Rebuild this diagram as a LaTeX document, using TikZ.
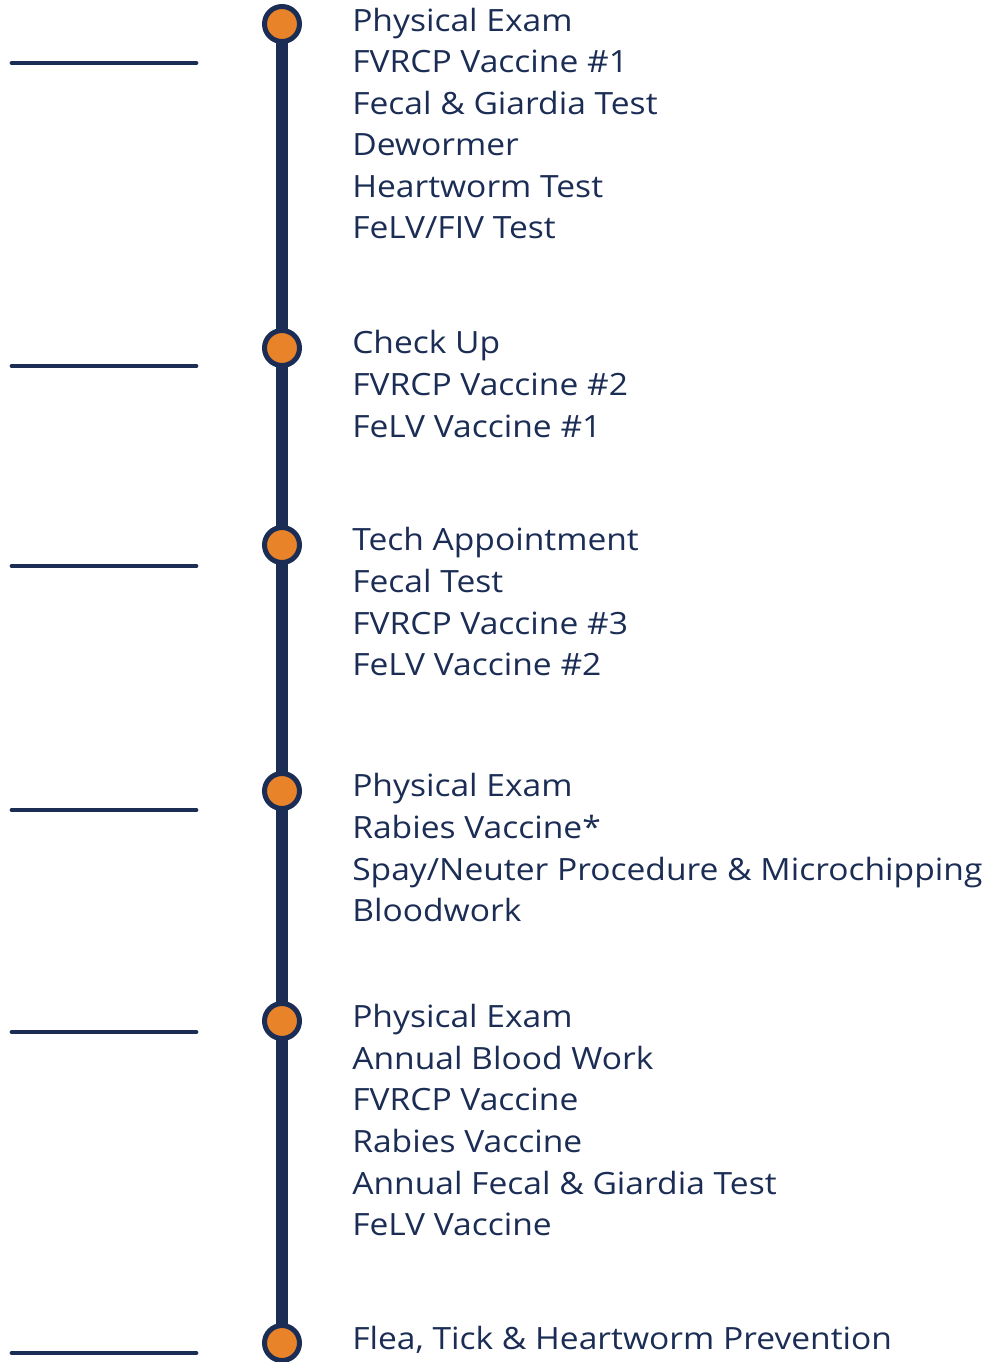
\documentclass[tikz,border=0pt]{standalone}
\usepackage{fontspec}
\setmainfont[FakeStretch=1.095]{Open Sans}
\definecolor{navy}{HTML}{1B2D55}
\definecolor{dotorange}{HTML}{E8832A}
\begin{document}
\begin{tikzpicture}[x=0.75pt,y=-0.75pt,
  dot/.style={circle,draw=navy,fill=dotorange,line width=3.75pt,minimum size=26.25pt,inner sep=0pt},
  spine/.style={navy,line width=9pt},
  tick/.style={navy,line width=3.6pt,line cap=round},
  item/.style={anchor=base west,inner sep=0pt,text=navy,font=\fontsize{23}{31}\selectfont}]
\useasboundingbox (0,0) rectangle (985,1362);
\coordinate (top) at (282,24);
\coordinate (bot) at (282,1343);
\draw[spine] (top) -- (bot);
\foreach \n/\y/\ly in {1/24/63,2/348/366,3/545/566,4/791/810,5/1021/1032,6/1343/1353}{
  \node[dot] (d\n) at (282,\y) {};
  \coordinate (t\n a) at (12,\ly);
  \coordinate (t\n b) at (196,\ly);
  \draw[tick] (t\n a) -- (t\n b);
}
\foreach \g/\y/\txt in {
  1a/31.5/{Physical Exam},
  1b/73/{FVRCP Vaccine \#1},
  1c/114.5/{Fecal \& Giardia Test},
  1d/156/{Dewormer},
  1e/197.5/{Heartworm Test},
  1f/239/{FeLV/FIV Test},
  2a/353.5/{Check Up},
  2b/395.5/{FVRCP Vaccine \#2},
  2c/437.5/{FeLV Vaccine \#1},
  3a/550.5/{Tech Appointment},
  3b/592.5/{Fecal Test},
  3c/634.5/{FVRCP Vaccine \#3},
  3d/675.5/{FeLV Vaccine \#2},
  4a/796.5/{Physical Exam},
  4b/838.5/{Rabies Vaccine*},
  4c/880.5/{Spay/Neuter Procedure \& Microchipping},
  4d/921.5/{Bloodwork},
  5a/1027.5/{Physical Exam},
  5b/1069.5/{Annual Blood Work},
  5c/1110.5/{FVRCP Vaccine},
  5d/1152.5/{Rabies Vaccine},
  5e/1194.5/{Annual Fecal \& Giardia Test},
  5f/1235.5/{FeLV Vaccine},
  6a/1349.5/{Flea, Tick \& Heartworm Prevention}}{
  \node[item] (i\g) at (352,\y) {\txt};
}
\end{tikzpicture}
\end{document}
